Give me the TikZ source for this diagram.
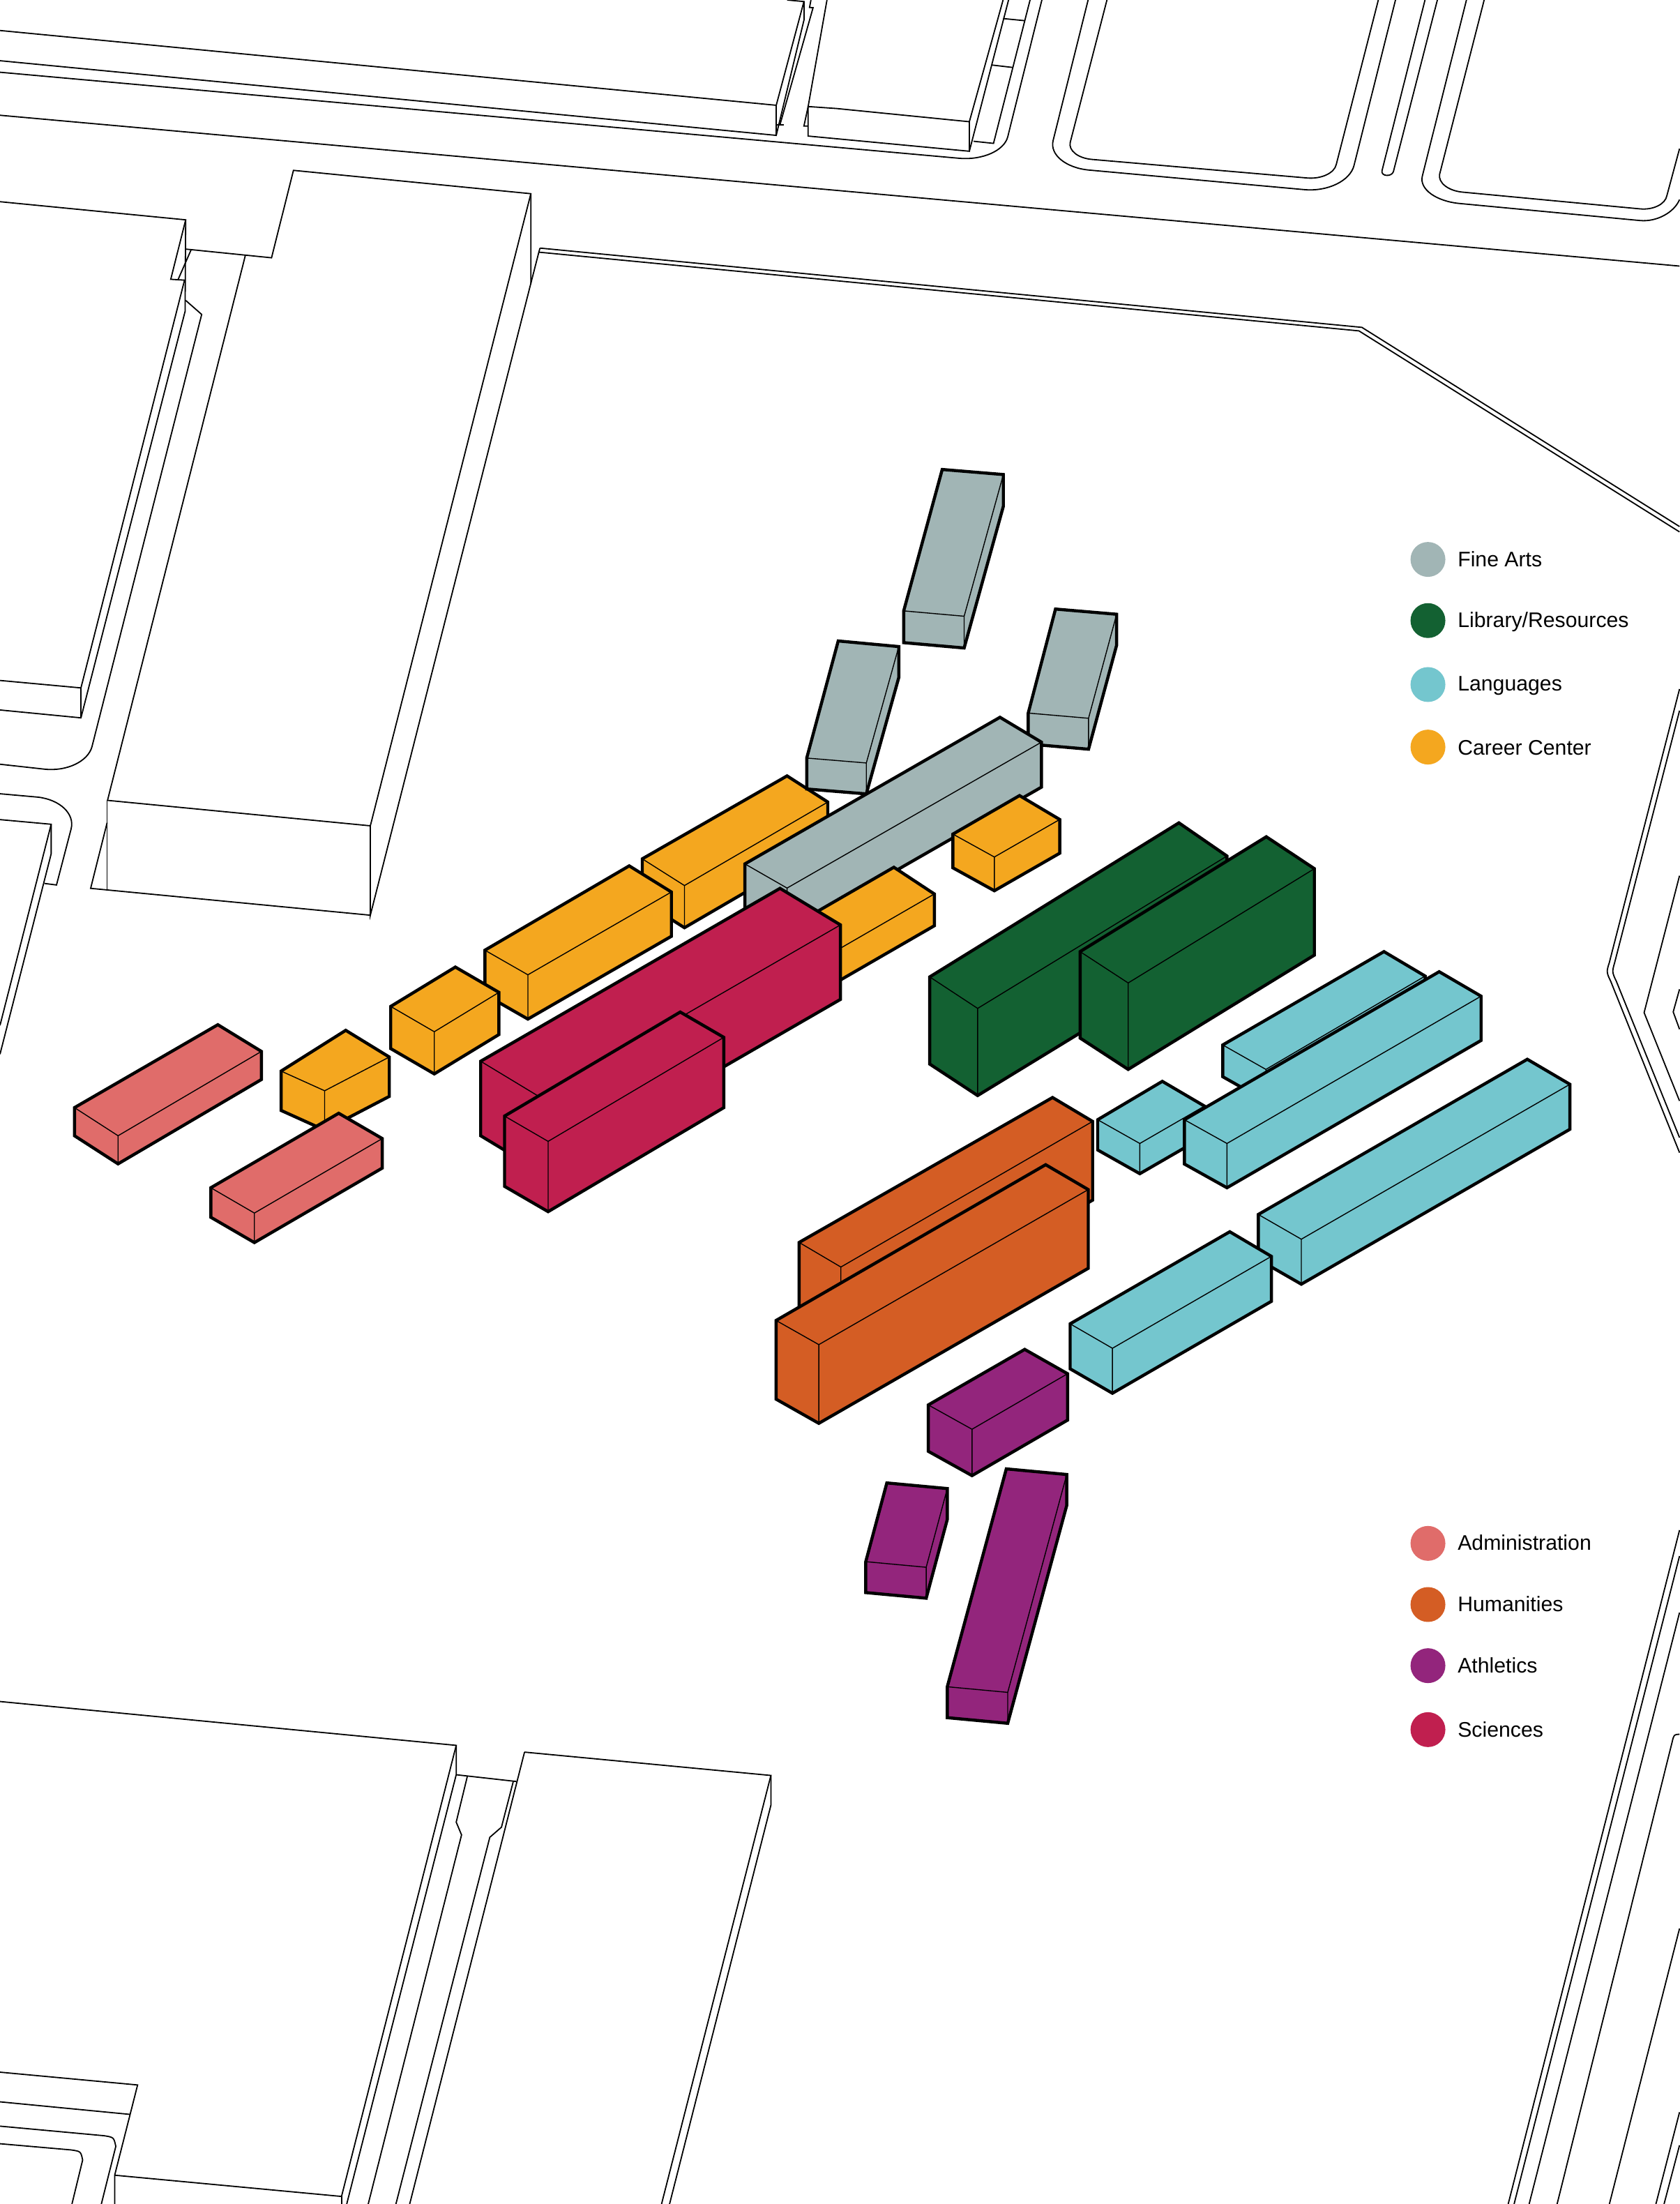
\documentclass[tikz,border=0pt]{standalone}
\usepackage{fontspec}
\setmainfont{Liberation Sans}
\usetikzlibrary{calc}
\definecolor{cFine}{HTML}{A1B5B5}
\definecolor{cLib}{HTML}{136132}
\definecolor{cLang}{HTML}{74C6CE}
\definecolor{cCareer}{HTML}{F4A71F}
\definecolor{cAdmin}{HTML}{E06C6A}
\definecolor{cHum}{HTML}{D45D24}
\definecolor{cAth}{HTML}{93257C}
\definecolor{cSci}{HTML}{C01F4F}
\tikzset{
  site/.style={line width=0.9pt,black,line join=miter},
  boxout/.style={line width=2.2pt,black,line join=miter,miter limit=4},
  boxin/.style={line width=0.7pt,black},
  legdot/.style={circle,inner sep=0pt,minimum size=24.8pt},
  legtext/.style={anchor=base west,inner sep=0pt,font=\fontsize{15}{15}\selectfont,text=black}
}
\newcommand{\bx}[6]{%
  \coordinate (L) at #2; \coordinate (B) at #3; \coordinate (R) at #4; \coordinate (F) at #5;
  \coordinate (Lb) at ($(L)+(0,#6)$); \coordinate (Rb) at ($(R)+(0,#6)$); \coordinate (Fb) at ($(F)+(0,#6)$);
  \draw[boxout,fill=#1] (L)--(B)--(R)--(Rb)--(Fb)--(Lb)--cycle;
  \draw[boxin] (L)--(F)--(R) (F)--(Fb);
}
\newcommand{\crn}[3]{.. controls ($#1!0.55!#2$) and ($#3!0.55!#2$) .. #3}
\begin{document}
\begin{tikzpicture}[x=1pt,y=-1pt]
\useasboundingbox (0,0) rectangle (1195.3,1568);
\fill[white] (0,0) rectangle (1195.3,1568);
\begin{scope}
\clip (0,0) rectangle (1195.3,1568);
% --- top buildings and streets
\draw[site] (0,21.7)--(552.3,74.9)--(552.3,96.3)--(0,43.2);
\draw[site] (552.3,74.9)--(572,1.1)--(560,0);
\draw[site] (572,1.1)--(572,14.4);
\draw[site] (552.3,96.3)--(572,14.4);
\draw[site] (555,88.6)--(578.5,5.5)--(576,5.3)--(577,0);
\draw[site] (552.3,88.9)--(557.5,88.9);
\draw[site] (0,51.4)--(682.4,112.6) \crn{(682.4,112.6)}{(712.4,115.3)}{(717,97.4)} --(741.3,0);
\draw[site] (0,82)--(1195,189.3);
\draw[site] (595.2,77.2)--(689.7,86.6)--(689.7,107.6)--(575,96.8)--(575,75.8)--(595.2,77.2);
\draw[site] (689.7,86.6)--(713.7,0);
\draw[site] (689.7,107.6)--(717.6,0);
\draw[site] (575,75.8)--(588.4,0);
\draw[site] (575,89.7)--(572,89.7)--(575,75.8);
\draw[site] (692.7,100.5)--(706.9,102)--(732.9,0);
\draw[site] (713.7,13.2)--(729,14.7);
\draw[site] (706.1,46.3)--(720.6,48);
\draw[site] (774.2,0)--(749.3,100) \crn{(749.3,100)}{(744.7,118.2)}{(774.9,121)} --(927.9,134.9) \crn{(927.9,134.9)}{(958.4,137.7)}{(963.4,117.7)} --(992.9,0);
\draw[site] (787.6,0)--(761.5,101.2) \crn{(761.5,101.2)}{(758.9,111.8)}{(776.8,113.4)} --(929.8,126.6) \crn{(929.8,126.6)}{(948.5,128.3)}{(950.8,116.9)} --(980.7,0);
\draw[site] (1013.9,0)--(983.3,121.5) .. controls (982.5,125.5) and (990,126) .. (991.4,122.2)--(1022.7,0);
\draw[site] (1043.4,0)--(1012,125.3) \crn{(1012,125.3)}{(1007.8,142)}{(1038.8,144.8)} --(1166.9,156.9) \crn{(1166.9,156.9)}{(1188,158.9)}{(1195,142)};
\draw[site] (1056,0)--(1024.3,124) \crn{(1024.3,124)}{(1022.2,135)}{(1040.7,136.7)} --(1166.9,148.6) \crn{(1166.9,148.6)}{(1184,150.2)}{(1186,139.2)} --(1195,105.8);
% --- site boundary
\draw[site] (384.2,176.5)--(969,232.9)--(1195,374.6);
\draw[site] (377.7,201.6)--(383.4,179.4)--(966.9,235.4)--(1195,378.4);
\draw[site] (384.2,176.5)--(383.4,179.4);
% --- big building
\draw[site] (132,177.2)--(193.2,183.4)--(208.8,121.2)--(377.7,137.8)--(263.5,587.5)--(76.5,569.4)--(174.6,181.6);
\draw[site] (377.7,137.8)--(377.7,201.6)--(263.5,651.1)--(263.5,587.5);
\draw[site] (76.2,569.4)--(76.2,633);
\draw[site] (76.2,585.3)--(64.5,632)--(263.5,651.1);
% --- upper-left building
\draw[site] (0,143.5)--(132.1,156.4)--(121.5,198.7)--(131.3,199.3)--(57.6,489.4)--(0,484.1);
\draw[site] (132.1,156.4)--(131.7,221.5)--(57.6,510.7)--(0,505.1);
\draw[site] (57.6,489.4)--(57.6,510.7);
\draw[site] (126.8,198.7)--(135.9,177.9);
\draw[site] (132.1,213.7)--(143.5,223.7)--(65.5,531) \crn{(65.5,531)}{(60.6,550.4)}{(31.6,547.2)} --(0,543.7);
% --- mid-left building
\draw[site] (0,564.7)--(26.9,567.1) \crn{(26.9,567.1)}{(55.6,570.3)}{(50.6,589.7)} --(40.2,629.6)--(31.6,628.5);
\draw[site] (0,583.1)--(36.4,586.4)--(0,729.5);
\draw[site] (36.4,586.4)--(36.4,607.5)--(0,750);
% --- bottom buildings
\draw[site] (0,1210.5)--(324.6,1241.7)--(243,1562.6)--(81.6,1547.5);
\draw[site] (324.6,1241.7)--(324.6,1262.6)--(246.7,1568);
\draw[site] (243,1562.6)--(243,1568);
\draw[site] (324.6,1262.6)--(367.5,1267.4);
\draw[site] (332.5,1263.8)--(324.6,1296.3)--(328.4,1305.4)--(262,1568);
\draw[site] (365.2,1267.4)--(356.8,1299.9)--(348.5,1307.1)--(281.7,1568);
\draw[site] (373.2,1246.5)--(548.5,1263.1)--(470.7,1568);
\draw[site] (373.2,1246.5)--(291.5,1568);
\draw[site] (548.5,1263.1)--(548.5,1284.3)--(476.4,1568);
\draw[site] (0,1474.2)--(97.9,1483.3)--(81.6,1547.5)--(81.6,1568);
\draw[site] (0,1495.3)--(92.2,1504.2);
\draw[site] (0,1512.6)--(74,1519.4) .. controls (81,1520.5) .. (82.4,1527)--(72.1,1568);
\draw[site] (0,1525.1)--(50.5,1529.5) .. controls (57.5,1530.5) .. (58.8,1536.7)--(51.2,1568);
% --- right-edge streets
\draw[site] (1195,1088.6)--(1073.1,1568);
\draw[site] (1195,1107)--(1077.3,1568);
\draw[site] (1195,1147.3)--(1088,1568);
\draw[site] (1195,1233.8) .. controls (1191,1234) .. (1189.7,1239.5)--(1107.9,1568);
\draw[site] (1195,1372)--(1145.1,1568);
\draw[site] (1195,1502.7)--(1178.2,1568);
\draw[site] (1195,1526.2)--(1184,1568);
\draw[site] (1195,490.2)--(1145,685) .. controls (1143,691) and (1143,692) .. (1146,698)--(1195,820);
\draw[site] (1195,505.6)--(1148.8,685) .. controls (1147,691) and (1147,692) .. (1150,698)--(1195,809.3);
\draw[site] (1195,623)--(1169.8,720.4)--(1195,783.2);
\draw[site] (1195,703.8)--(1190.5,719.9)--(1195,732.2);
\end{scope}
% --- coloured volumes
\bx{cFine}{(643,434.6)}{(670.4,334)}{(713.9,337.6)}{(686,438.4)}{22.6}
\bx{cCareer}{(457,611)}{(560,552)}{(589,570.6)}{(487,630)}{30}
\bx{cFine}{(574,539.3)}{(596.4,456)}{(639.5,460)}{(616.4,542.8)}{22}
\bx{cFine}{(731.6,507.3)}{(751,433.3)}{(794.5,437)}{(774.5,511)}{22}
\bx{cFine}{(530,614.6)}{(711.5,510.3)}{(741,528)}{(560,631.8)}{32}
\bx{cCareer}{(678,593.4)}{(725.4,566)}{(754,583)}{(707.5,609.7)}{24}
\bx{cCareer}{(565,658)}{(636,617)}{(664.8,636)}{(593.8,677)}{22.6}
\bx{cCareer}{(345,676)}{(447.7,616)}{(477.7,634.6)}{(375.6,693.5)}{31.5}
\bx{cCareer}{(278,716)}{(324,688)}{(355,706)}{(309,734)}{30}
\bx{cCareer}{(200,762)}{(246,733)}{(277,752)}{(231,776)}{28}
\bx{cAdmin}{(53,788)}{(155,729)}{(186,748)}{(84,808)}{20}
\bx{cAdmin}{(150,845)}{(241,792)}{(272,810)}{(181,863)}{21}
\bx{cSci}{(342,755)}{(555,632)}{(598,658)}{(385,781)}{53}
\bx{cSci}{(359,794)}{(484,720)}{(515,738)}{(390,812)}{50}
\bx{cLib}{(661.5,695)}{(838.8,585.4)}{(873,609)}{(695.6,717.4)}{62}
\bx{cLib}{(768.5,677)}{(901,595.3)}{(935.2,618)}{(802.7,699.3)}{61.5}
\bx{cLang}{(870,743.4)}{(984.7,677)}{(1014,694.4)}{(900.7,760.8)}{22.6}
\bx{cLang}{(781,796.6)}{(827,769.3)}{(857,786.9)}{(811,813.5)}{21.5}
\bx{cLang}{(842.7,796.6)}{(1024,691.3)}{(1053.8,708.7)}{(873,813.5)}{31.5}
\bx{cLang}{(895.3,864)}{(1086.7,753.6)}{(1117,771.4)}{(925.9,881.6)}{32}
\bx{cLang}{(761.4,941.8)}{(875,876.3)}{(904.6,893.8)}{(791.5,959.2)}{32}
\bx{cHum}{(568.6,883.9)}{(748.9,780.8)}{(777.4,797.8)}{(598.3,901.4)}{56}
\bx{cHum}{(552.2,939.4)}{(744,828.6)}{(774.3,846.3)}{(582.6,956.6)}{56}
\bx{cAth}{(660.5,999.5)}{(729.1,960)}{(759.6,977.3)}{(691.6,1016.8)}{33}
\bx{cAth}{(616,1111)}{(631,1055)}{(674,1059)}{(659,1115)}{22}
\bx{cAth}{(674,1200)}{(716,1045)}{(759,1049)}{(717,1204)}{22}
% --- legend
\node[legdot,fill=cFine] (d1) at (1016,398) {};
\node[legdot,fill=cLib] (d2) at (1016,441.5) {};
\node[legdot,fill=cLang] (d3) at (1016,487) {};
\node[legdot,fill=cCareer] (d4) at (1016,531.5) {};
\node[legdot,fill=cAdmin] (d5) at (1016,1098) {};
\node[legdot,fill=cHum] (d6) at (1016,1141.5) {};
\node[legdot,fill=cAth] (d7) at (1016,1185) {};
\node[legdot,fill=cSci] (d8) at (1016,1230.5) {};
\node[legtext] (t1) at (1037,403) {Fine Arts};
\node[legtext] (t2) at (1037,446.3) {Library/Resources};
\node[legtext] (t3) at (1037,491.7) {Languages};
\node[legtext] (t4) at (1037,537.2) {Career Center};
\node[legtext] (t5) at (1037,1102.7) {Administration};
\node[legtext] (t6) at (1037,1146.7) {Humanities};
\node[legtext] (t7) at (1037,1190.3) {Athletics};
\node[legtext] (t8) at (1037,1236) {Sciences};
\end{tikzpicture}
\end{document}
